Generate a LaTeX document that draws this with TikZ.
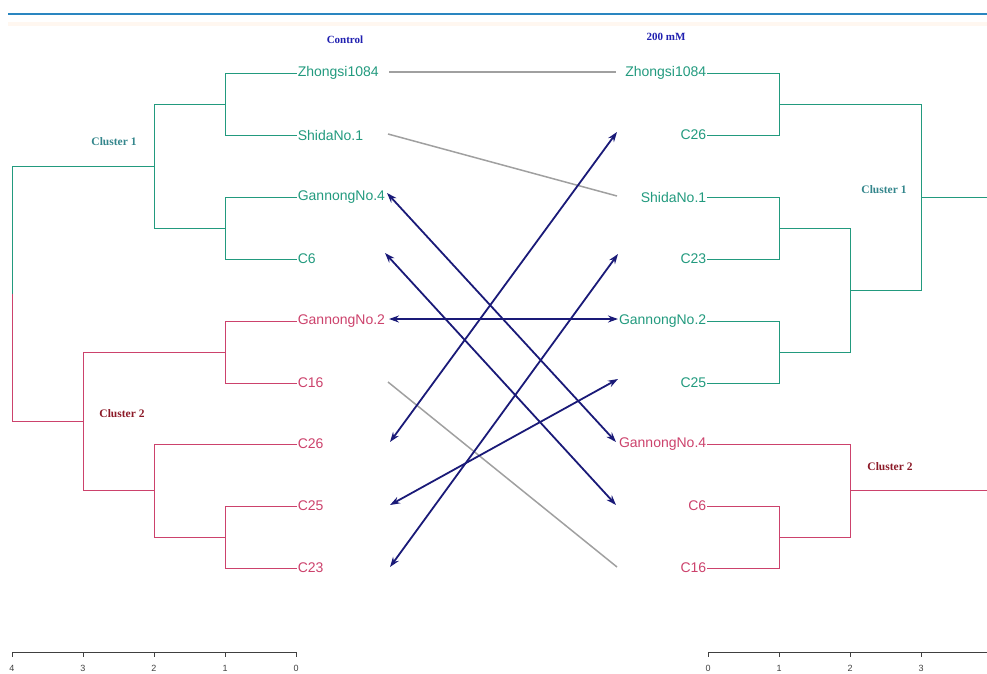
\documentclass[tikz,border=0pt]{standalone}
\usepackage{fontspec}
\setmainfont{Liberation Sans}
\newfontfamily\titlefont{Liberation Serif}
\usetikzlibrary{arrows.meta}
\definecolor{clteal}{RGB}{34,154,126}
\definecolor{clpink}{RGB}{204,66,108}
\definecolor{cltitle}{RGB}{32,32,176}
\definecolor{cllabA}{RGB}{52,134,140}
\definecolor{cllabB}{RGB}{140,26,40}
\definecolor{linkgray}{RGB}{160,160,160}
\definecolor{linknavy}{RGB}{26,26,120}
\definecolor{rulecol}{RGB}{42,134,192}
\tikzset{
  brT/.style={clteal, line width=0.9pt},
  brP/.style={clpink, line width=0.9pt},
  leafL/.style={anchor=west, inner sep=0.6pt, font=\fontsize{14}{14}\selectfont},
  leafR/.style={anchor=east, inner sep=0.6pt, font=\fontsize{14}{14}\selectfont},
  clustlab/.style={font=\titlefont\bfseries\fontsize{11.5}{12}\selectfont},
  headlab/.style={cltitle, font=\titlefont\bfseries\fontsize{11}{12}\selectfont},
  samelink/.style={linkgray, line width=1.5pt},
  movelink/.style={linknavy, line width=1.8pt, {Stealth[length=10pt,width=7pt]}-{Stealth[length=10pt,width=7pt]}},
  axisline/.style={black!75, line width=0.9pt},
  axisnum/.style={black!75, font=\fontsize{9}{9}\selectfont}
}
\begin{document}
\begin{tikzpicture}[x=1pt,y=-1pt]
\useasboundingbox (0,0) rectangle (987,673);
\clip (0,0) rectangle (987,673);

% header rule
\draw[rulecol, line width=1.1pt] (8,14) -- (987,14);
\draw[orange!6, line width=4pt] (8,24) -- (987,24);

% headings
\node[headlab] (hctrl) at (345,40) {Control};
\node[headlab] (hsalt) at (666,37) {200 mM};

% ---------- left tree (Control) ----------
\node[leafL, clteal] (lZh)  at (297,73)  {Zhongsi1084};
\node[leafL, clteal] (lSh)  at (297,135) {ShidaNo.1};
\node[leafL, clteal] (lG4)  at (297,197) {GannongNo.4};
\node[leafL, clteal] (lC6)  at (297,259) {C6};
\node[leafL, clpink] (lG2)  at (297,321) {GannongNo.2};
\node[leafL, clpink] (lC16) at (297,383) {C16};
\node[leafL, clpink] (lC26) at (297,444) {C26};
\node[leafL, clpink] (lC25) at (297,506) {C25};
\node[leafL, clpink] (lC23) at (297,568) {C23};

\draw[brT] (lZh.west) -- (225,73) -- (225,135) -- (lSh.west);
\draw[brT] (lG4.west) -- (225,197) -- (225,259) -- (lC6.west);
\draw[brT] (225,104) -- (154,104) -- (154,228) -- (225,228);
\draw[brT] (154,166) -- (12,166) -- (12,293.5);
\draw[brP] (12,293.5) -- (12,421) -- (83,421);
\draw[brP] (lG2.west) -- (225,321) -- (225,383) -- (lC16.west);
\draw[brP] (lC25.west) -- (225,506) -- (225,568) -- (lC23.west);
\draw[brP] (lC26.west) -- (154,444) -- (154,537) -- (225,537);
\draw[brP] (225,352) -- (83,352) -- (83,490) -- (154,490);

\node[clustlab, cllabA] (lk1) at (114,142) {Cluster 1};
\node[clustlab, cllabB] (lk2) at (122,414) {Cluster 2};

% left axis
\draw[axisline] (12,652) -- (296,652);
\foreach \x/\v in {12/4,83/3,154/2,225/1,296/0}{
  \draw[axisline] (\x,652) -- (\x,657);
  \node[axisnum] at (\x,668) {\v};
}

% ---------- right tree (200 mM) ----------
\node[leafR, clteal] (rZh)  at (707,73)  {Zhongsi1084};
\node[leafR, clteal] (rC26) at (707,135) {C26};
\node[leafR, clteal] (rSh)  at (707,197) {ShidaNo.1};
\node[leafR, clteal] (rC23) at (707,259) {C23};
\node[leafR, clteal] (rG2)  at (707,321) {GannongNo.2};
\node[leafR, clteal] (rC25) at (707,383) {C25};
\node[leafR, clpink] (rG4)  at (707,444) {GannongNo.4};
\node[leafR, clpink] (rC6)  at (707,506) {C6};
\node[leafR, clpink] (rC16) at (707,568) {C16};

\draw[brT] (rZh.east) -- (779,73) -- (779,135) -- (rC26.east);
\draw[brT] (rSh.east) -- (779,197) -- (779,259) -- (rC23.east);
\draw[brT] (rG2.east) -- (779,321) -- (779,383) -- (rC25.east);
\draw[brT] (779,228) -- (850,228) -- (850,352) -- (779,352);
\draw[brT] (779,104) -- (921,104) -- (921,290) -- (850,290);
\draw[brT] (921,197) -- (995,197);
\draw[brP] (rG4.east) -- (850,444) -- (850,537) -- (779,537);
\draw[brP] (rC6.east) -- (779,506) -- (779,568) -- (rC16.east);
\draw[brP] (850,490) -- (995,490);

\node[clustlab, cllabA] (rk1) at (884,190) {Cluster 1};
\node[clustlab, cllabB] (rk2) at (890,467) {Cluster 2};

% right axis (runs off the right edge)
\draw[axisline] (708,652) -- (995,652);
\foreach \x/\v in {708/0,779/1,850/2,921/3}{
  \draw[axisline] (\x,652) -- (\x,657);
  \node[axisnum] at (\x,668) {\v};
}

% ---------- tanglegram links ----------
\coordinate (aZh)  at (389,72);
\coordinate (aSh)  at (388,134);
\coordinate (aG4)  at (387,193);
\coordinate (aC6)  at (385,253);
\coordinate (aG2)  at (389,319);
\coordinate (aC16) at (388,382);
\coordinate (aC26) at (390,442);
\coordinate (aC25) at (390,505);
\coordinate (aC23) at (390,567);

\coordinate (bZh)  at (616,72);
\coordinate (bC26) at (617,132);
\coordinate (bSh)  at (617,196);
\coordinate (bC23) at (618,254);
\coordinate (bG2)  at (618,319);
\coordinate (bC25) at (618,379);
\coordinate (bG4)  at (616,442);
\coordinate (bC6)  at (616,505);
\coordinate (bC16) at (617,567);

\draw[samelink] (aZh) -- (bZh);
\draw[samelink] (aSh) -- (bSh);
\draw[samelink] (aC16) -- (bC16);

\draw[movelink] (aG4) -- (bG4);
\draw[movelink] (aC6) -- (bC6);
\draw[movelink] (aG2) -- (bG2);
\draw[movelink] (aC26) -- (bC26);
\draw[movelink] (aC25) -- (bC25);
\draw[movelink] (aC23) -- (bC23);
\end{tikzpicture}
\end{document}
